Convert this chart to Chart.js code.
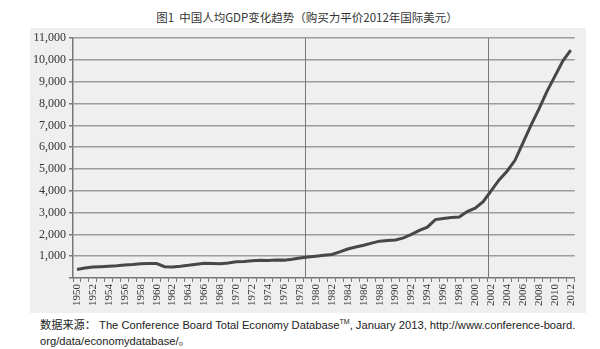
<!DOCTYPE html>
<html lang="zh">
<head>
  <meta charset="utf-8" />
  <title>中国人均GDP变化趋势</title>
  <script src="https://cdn.jsdelivr.net/npm/chart.js"></script>
  <style>
    html, body {
      margin: 0;
      background: #fff;
      width: 600px;
      height: 349px;
      overflow: hidden;
    }
    #title {
      position: absolute;
      left: 0; top: 10px; width: 614px;
      text-align: center;
      font-family: "Noto Sans CJK SC", sans-serif;
      font-size: 11.5px;
      line-height: 14px;
      color: #333;
    }
    #box {
      position: absolute;
      left: 30px; top: 28px;
      width: 556px; height: 285px;
      background: #efefef;
    }
    #source {
      position: absolute;
      left: 40px; top: 314px; width: 560px;
      font-family: "Liberation Sans", "Noto Sans CJK SC", sans-serif;
      font-size: 11.2px;
      line-height: 16px;
      color: #222;
    }
    #source sup { font-size: 7px; }
  </style>
</head>
<body>
  <div id="title">图1&nbsp; 中国人均GDP变化趋势（购买力平价2012年国际美元）</div>
  <div id="box"><canvas id="c" width="556" height="285"></canvas></div>
  <div id="source">数据来源： The Conference Board Total Economy Database<sup>TM</sup>, January 2013, http://www.conference-board.<br>org/data/economydatabase/。</div>

  <script>
    // years 1950-2012
    const years = [];
    for (let y = 1950; y <= 2012; y++) years.push(String(y));

    // GDP per capita, PPP 2012 international dollars
    const gdpPerCapita = [
      390, 460, 500, 520, 540, 560, 600, 620, 650, 660,       // 1950-1959
      660, 520, 510, 540, 580, 630, 680, 670, 650, 690,       // 1960-1969
      740, 760, 790, 810, 800, 830, 820, 860, 920, 960,       // 1970-1979
      1000, 1040, 1080, 1200, 1330, 1420, 1500, 1600, 1690, 1720, // 1980-1989
      1740, 1840, 2000, 2180, 2330, 2680, 2730, 2780, 2800, 3050, // 1990-1999
      3200, 3500, 4000, 4500, 4900, 5400, 6200, 7000, 7750, 8550, // 2000-2009
      9250, 9950, 10450                                       // 2010-2012
    ];

    const yTicks = [0, 1000, 2000, 3000, 4000, 5000, 6000, 7000, 8000, 9000, 10000, 11000];

    // vertical marker lines (just before these years)
    const markerYears = ['1979', '2002'];

    const markers = {
      id: 'markers',
      beforeDatasetsDraw(chart) {
        const { ctx, chartArea, scales } = chart;
        ctx.save();
        ctx.strokeStyle = '#777';
        ctx.lineWidth = 1;
        markerYears.forEach(m => {
          const x = Math.round(scales.x.getPixelForValue(years.indexOf(m) - 0.4)) + 0.5;
          ctx.beginPath();
          ctx.moveTo(x, chartArea.top);
          ctx.lineTo(x, chartArea.bottom);
          ctx.stroke();
        });
        ctx.restore();
      }
    };

    const serif = { family: '"Liberation Serif", "Times New Roman", serif', size: 12 };

    new Chart(document.getElementById('c'), {
      type: 'line',
      data: {
        labels: years,
        datasets: [{
          data: gdpPerCapita,
          borderColor: '#474747',
          borderWidth: 3,
          pointRadius: 0,
          tension: 0,
          fill: false
        }]
      },
      options: {
        responsive: false,
        animation: false,
        layout: { padding: { top: 8, right: 7, left: 0, bottom: 0 } },
        plugins: { legend: { display: false }, tooltip: { enabled: false } },
        scales: {
          x: {
            offset: true,
            afterFit: s => { s.height = 35; },
            grid: { offset: true, drawOnChartArea: false, tickLength: 4, color: '#777', lineWidth: 1 },
            border: { color: '#777', width: 1.5 },
            ticks: {
              autoSkip: false,
              minRotation: 90, maxRotation: 90,
              padding: 2,
              color: '#333',
              font: { ...serif, size: 11 },
              callback: (v, i) => (i % 2 === 0 ? years[i] : '')
            }
          },
          y: {
            min: 0, max: 11000,
            afterFit: s => { s.width = 43; },
            afterBuildTicks: s => { s.ticks = yTicks.map(v => ({ value: v })); },
            grid: {
              color: ctx => (ctx.tick && ctx.tick.value === 0 ? 'rgba(0,0,0,0)' : '#9c9c9c'),
              lineWidth: 1.5,
              tickLength: 4,
              tickColor: '#777'
            },
            border: { color: '#777', width: 1.5 },
            ticks: {
              padding: 3,
              color: '#333',
              font: serif,
              callback: v => (v === 0 ? '' : v.toLocaleString('en-US'))
            }
          }
        }
      },
      plugins: [markers]
    });
  </script>
</body>
</html>
